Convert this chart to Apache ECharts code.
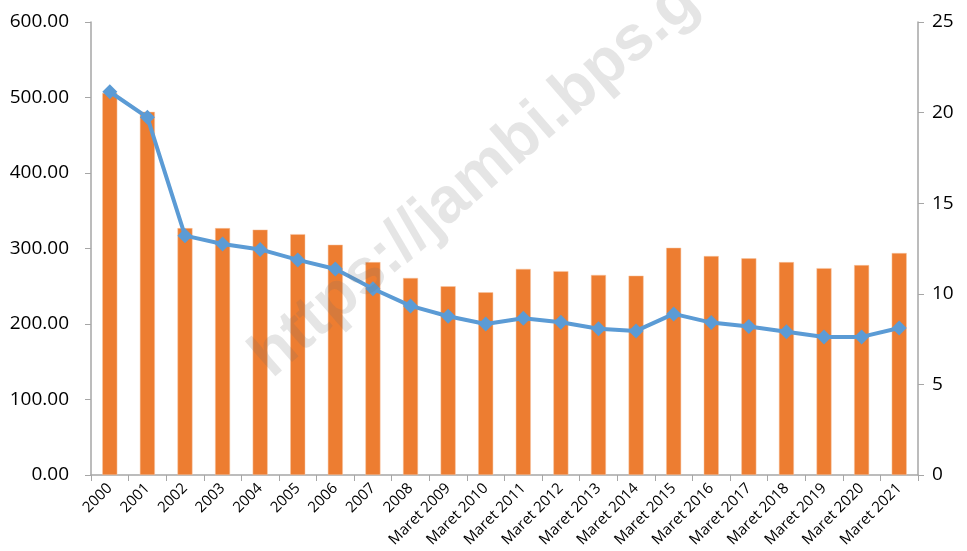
<!DOCTYPE html>
<html>
<head>
<meta charset="utf-8">
<script src="https://cdn.jsdelivr.net/npm/echarts@6/dist/echarts.min.js"></script>
<style>
  html, body { margin: 0; padding: 0; background: #fff; }
  #box { width: 967px; height: 551px; }
</style>
</head>
<body>
<div id="box"></div>
<script>
// categories
let years = ["2000", "2001", "2002", "2003", "2004", "2005", "2006", "2007", "2008",
  "Maret 2009", "Maret 2010", "Maret 2011", "Maret 2012", "Maret 2013", "Maret 2014",
  "Maret 2015", "Maret 2016", "Maret 2017", "Maret 2018", "Maret 2019", "Maret 2020", "Maret 2021"];
// jumlah penduduk miskin (ribu) - kiri
let jumlah = [506, 481, 327, 327, 325, 319, 305, 282, 261, 250, 242, 273,
  270, 265, 264, 301, 290, 287, 282, 274, 278, 294];
// persentase - kanan
let persen = [21.15, 19.74, 13.21, 12.75, 12.45, 11.87, 11.37, 10.28, 9.33, 8.76, 8.33, 8.65,
  8.43, 8.07, 7.95, 8.89, 8.41, 8.19, 7.91, 7.62, 7.62, 8.11];

let font = "'Open Sans', 'Noto Sans', sans-serif";
let axisGrey = "#a6a6a6";

let chart = echarts.init(document.getElementById("box"), null, { renderer: "canvas" });
let option = {
  animation: false,
  textStyle: { fontFamily: font },
  grid: { left: 91, right: 49, top: 22, bottom: 76 },
  xAxis: {
    type: "category",
    data: years,
    boundaryGap: true,
    axisLine: { lineStyle: { color: axisGrey, width: 1.5 } },
    axisTick: { show: true, alignWithLabel: false, length: 6, lineStyle: { color: axisGrey } },
    axisLabel: { rotate: 45, interval: 0, color: "#000", fontSize: 15, margin: 11, fontFamily: font }
  },
  yAxis: [
    {
      type: "value", min: 0, max: 600, interval: 100,
      axisLine: { show: true, lineStyle: { color: axisGrey, width: 1.5 } },
      axisTick: { show: true, length: 6, lineStyle: { color: axisGrey } },
      splitLine: { show: false },
      axisLabel: { color: "#000", fontSize: 19, margin: 22, fontFamily: font,
        formatter: v => v.toFixed(2) }
    },
    {
      type: "value", min: 0, max: 25, interval: 5,
      axisLine: { show: true, lineStyle: { color: axisGrey, width: 1.5 } },
      axisTick: { show: true, length: 6, lineStyle: { color: axisGrey } },
      splitLine: { show: false },
      axisLabel: { color: "#000", fontSize: 19, margin: 14, fontFamily: font }
    }
  ],
  series: [
    {
      type: "bar", name: "Jumlah", data: jumlah, yAxisIndex: 0,
      barWidth: 15,
      itemStyle: { color: "#ED7D31", borderColor: "#f6c6a4", borderWidth: 0.5 }
    },
    {
      type: "line", name: "Persentase", data: persen, yAxisIndex: 1,
      symbol: "diamond", symbolSize: 15,
      lineStyle: { color: "#5B9BD5", width: 4 },
      itemStyle: { color: "#5B9BD5" },
      z: 3
    }
  ],
  graphic: [
    {
      type: "text",
      x: 518, y: 142,
      rotation: 41 * Math.PI / 180,
      z: 100,
      style: {
        text: "https://jambi.bps.go.id",
        fill: "rgba(110,110,110,0.18)",
        font: "bold 64px Arial, 'Liberation Sans', sans-serif",
        textAlign: "center",
        textVerticalAlign: "middle"
      }
    }
  ]
};
chart.setOption(option);
</script>
</body>
</html>
